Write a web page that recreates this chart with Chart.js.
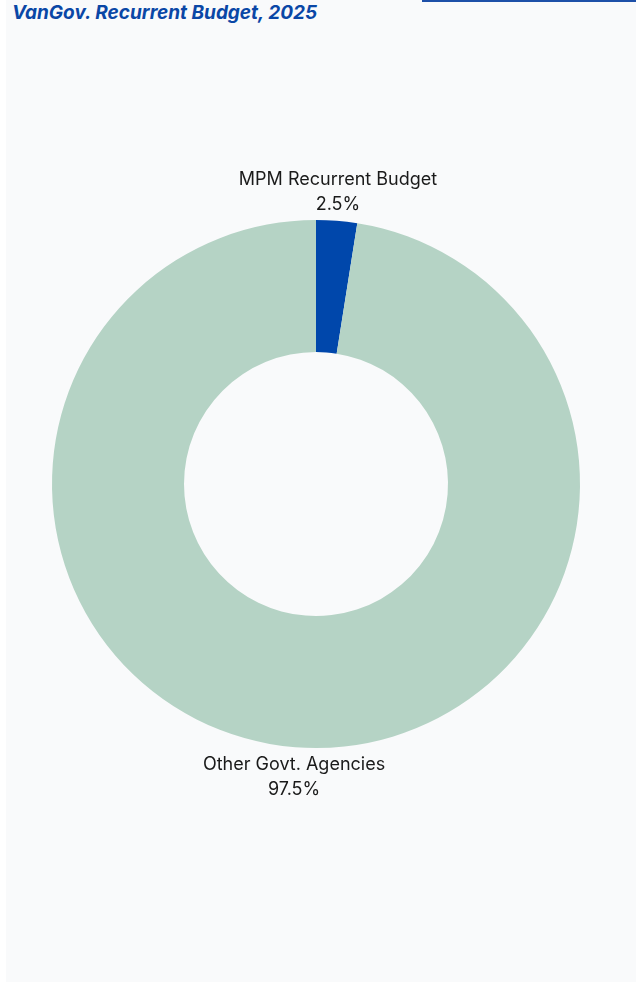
<!DOCTYPE html>
<html lang="en">
<head>
    <meta charset="UTF-8">
    <title>VanGov. Recurrent Budget, 2025</title>
    <style>
        body {
            margin: 0;
            padding: 0;
            background-color: #ffffff;
            font-family: Inter, "Noto Sans", sans-serif;
        }
        .panel {
            position: absolute;
            left: 6px;
            top: 0;
            width: 630px;
            height: 982px;
            background-color: #f9fafb;
        }
        .topline {
            position: absolute;
            left: 422px;
            top: 0;
            width: 214px;
            height: 2px;
            background-color: #1d50a8;
        }
        h1 {
            position: absolute;
            left: 12px;
            top: 1px;
            margin: 0;
            font-size: 19px;
            font-weight: 700;
            font-style: italic;
            color: #0a47a6;
        }
        .chart-box {
            position: absolute;
            left: 0;
            top: 0;
            width: 636px;
            height: 985px;
        }
    </style>
</head>
<body>
    <div class="panel"></div>
    <div class="topline"></div>
    <h1>VanGov. Recurrent Budget, 2025</h1>
    <div class="chart-box"><canvas id="budgetChart"></canvas></div>

    <script src="https://cdn.jsdelivr.net/npm/chart.js"></script>
    <script>
        const labels = ['MPM Recurrent Budget', 'Other Govt. Agencies'];
        const shares = [2.5, 97.5];
        const colors = ['#0047ab', '#b5d3c5'];

        // name + percent written just outside each slice
        const outsideLabels = {
            id: 'outsideLabels',
            afterDatasetsDraw(chart) {
                const ctx = chart.ctx;
                const meta = chart.getDatasetMeta(0);
                ctx.save();
                ctx.font = '18px Inter, "Noto Sans", sans-serif';
                ctx.fillStyle = '#1a1a1a';
                ctx.textAlign = 'center';
                ctx.textBaseline = 'middle';
                meta.data.forEach((arc, i) => {
                    const mid = (arc.startAngle + arc.endAngle) / 2;
                    const r = arc.outerRadius + 16;
                    const x = arc.x + Math.cos(mid) * r;
                    const y = arc.y + Math.sin(mid) * r;
                    const lines = [labels[i], shares[i] + '%'];
                    const lh = 25;
                    // above the ring the block grows upward, below it grows downward
                    const top = Math.sin(mid) < 0 ? y - lh * (lines.length - 1) : y + 1;
                    lines.forEach((t, k) => ctx.fillText(t, x, top + k * lh));
                });
                ctx.restore();
            }
        };

        new Chart(document.getElementById('budgetChart'), {
            type: 'doughnut',
            data: {
                labels: labels,
                datasets: [{
                    data: shares,
                    backgroundColor: colors,
                    borderWidth: 0
                }]
            },
            options: {
                responsive: true,
                maintainAspectRatio: false,
                animation: false,
                cutout: '50%',
                layout: { padding: { left: 52, right: 56, top: 220, bottom: 237 } },
                plugins: {
                    legend: { display: false },
                    tooltip: { enabled: false }
                }
            },
            plugins: [outsideLabels]
        });
    </script>
</body>
</html>
